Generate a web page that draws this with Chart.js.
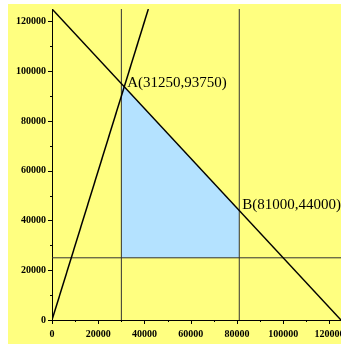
<!DOCTYPE html>
<html><head><meta charset="utf-8">
<script src="https://cdn.jsdelivr.net/npm/chart.js@4/dist/chart.umd.min.js"></script>
<style>html,body{margin:0;padding:0;background:#fff;}#wrap{width:341px;height:344px;}</style>
</head><body><div id="wrap"><canvas id="c" width="341" height="344"></canvas></div>
<script>
// Constraint lines (x, y values)
const lineSum = [[0,125000],[125000,0]];        // x + y = 125000
const lineRatio = [[0,0],[41667,125000]];       // y = 3x
const lineX30 = [[30000,0],[30000,125000]];     // x = 30000
const lineX81 = [[81000,0],[81000,125000]];     // x = 81000
const lineY25 = [[0,25000],[125000,25000]];     // y = 25000
const regionTop = [[30000,93750],[31250,93750],[81000,44000]]; // feasible region upper boundary
const regionFloor = 25000;
const pointA = [31250,93750];
const pointB = [81000,44000];
const xTicks = [0,20000,40000,60000,80000,100000,120000];
const yTicks = [0,20000,40000,60000,80000,100000,120000];

const pts = a => a.map(p => ({x:p[0], y:p[1]}));

const bgPlugin = {
  id:'bg',
  beforeDraw(chart){
    const ctx = chart.ctx;
    ctx.save();
    ctx.fillStyle = '#ffff80';
    ctx.fillRect(8,4,333,340);
    ctx.restore();
  },
  afterDraw(chart){
    const ctx = chart.ctx, xs = chart.scales.x, ys = chart.scales.y;
    const ca = chart.chartArea;
    ctx.save();
    ctx.strokeStyle = '#000';
    ctx.lineWidth = 1;
    for (let v = 0; v <= 125000; v += 10000){
      const major = v % 20000 === 0;
      const px = Math.round(xs.getPixelForValue(v)) + 0.5;
      ctx.beginPath(); ctx.moveTo(px, ca.bottom); ctx.lineTo(px, ca.bottom + (major?4:2)); ctx.stroke();
    }
    for (let v = 0; v <= 125000; v += 10000){
      const major = v % 20000 === 0;
      const py = Math.round(ys.getPixelForValue(v)) + 0.5;
      ctx.beginPath(); ctx.moveTo(ca.left, py); ctx.lineTo(ca.left - (major?4:2), py); ctx.stroke();
    }
    // point labels
    ctx.fillStyle = '#000';
    ctx.font = '15px "Liberation Serif", serif';
    ctx.textBaseline = 'alphabetic';
    ctx.textAlign = 'left';
    ctx.fillText('A(' + pointA[0] + ',' + pointA[1] + ')', xs.getPixelForValue(pointA[0]) + 3, ys.getPixelForValue(pointA[1]));
    ctx.fillText('B(' + pointB[0] + ',' + pointB[1] + ')', xs.getPixelForValue(pointB[0]) + 3, ys.getPixelForValue(pointB[1]) - 2);
    ctx.restore();
  }
};

const thin = {showLine:true, pointRadius:0, borderColor:'#333', borderWidth:1, fill:false};
const thick = {showLine:true, pointRadius:0, borderColor:'#000', borderWidth:1.5, fill:false};
const tickFont = {family:'"Liberation Serif", serif', size:10, weight:'bold'};

new Chart(document.getElementById('c'), {
  type:'scatter',
  data:{datasets:[
    Object.assign({data:pts(lineSum)}, thick),
    Object.assign({data:pts(lineRatio)}, thick),
    Object.assign({data:pts(lineX30)}, thin),
    Object.assign({data:pts(lineX81)}, thin),
    Object.assign({data:pts(lineY25)}, thin),
    {data:pts(regionTop), showLine:true, pointRadius:0, borderWidth:0, borderColor:'rgba(0,0,0,0)',
     backgroundColor:'#b4e2ff', fill:{value:regionFloor}}
  ]},
  options:{
    responsive:false, animation:false, devicePixelRatio:1,
    layout:{padding:{left:0,top:9,right:0,bottom:0}},
    plugins:{legend:{display:false}, tooltip:{enabled:false}},
    scales:{
      x:{type:'linear', min:0, max:125000,
        afterBuildTicks(s){ s.ticks = xTicks.map(v=>({value:v})); },
        afterFit(s){ s.height = 24; s.paddingLeft = 0; s.paddingRight = 0; },
        grid:{display:true, drawOnChartArea:false, drawTicks:false},
        border:{display:true, color:'#000', width:1},
        ticks:{padding:8, maxRotation:0, autoSkip:false, color:'#000', font:tickFont,
          callback:v => String(v)}
      },
      y:{type:'linear', min:0, max:125000,
        afterBuildTicks(s){ s.ticks = yTicks.map(v=>({value:v})); },
        afterFit(s){ s.width = 52; s.paddingTop = 0; s.paddingBottom = 0; },
        grid:{display:true, drawOnChartArea:false, drawTicks:false},
        border:{display:true, color:'#000', width:1},
        ticks:{padding:6, autoSkip:false, color:'#000', font:tickFont,
          callback:v => String(v)}
      }
    }
  },
  plugins:[bgPlugin]
});
</script></body></html>
